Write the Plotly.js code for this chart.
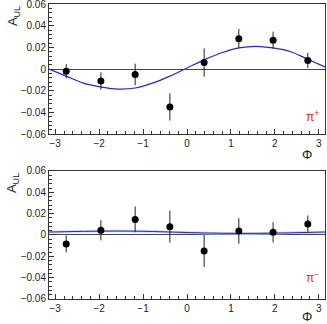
<!DOCTYPE html>
<html>
<head>
<meta charset="utf-8">
<script src="https://cdn.plot.ly/plotly-3.0.1.min.js"></script>
<style>
  html, body { margin: 0; padding: 0; background: #fff; }
  #graph { width: 327px; height: 324px; }
</style>
</head>
<body>
<div id="graph"></div>
<script>
// bin centres in phi
const phiBins = [-2.75, -1.96, -1.18, -0.39, 0.39, 1.18, 1.96, 2.75];

// pi+ asymmetry and errors
const aulPlus = [-0.002, -0.011, -0.005, -0.035, 0.006, 0.028, 0.0265, 0.008];
const errPlus = [0.0065, 0.008, 0.010, 0.0125, 0.013, 0.009, 0.008, 0.007];

// pi- asymmetry and errors
const aulMinus = [-0.0084, 0.0044, 0.0146, 0.0078, -0.015, 0.0037, 0.0025, 0.0103];
const errMinus = [0.008, 0.0095, 0.012, 0.015, 0.015, 0.012, 0.0095, 0.008];

// fit curves
const fitPhi = [-3.14, -2.75, -2.36, -1.96, -1.57, -1.18, -0.79, -0.39, 0, 0.39, 0.79, 1.18, 1.57, 1.96, 2.36, 2.75, 3.14];
const fitPlus = [0.000, -0.0065, -0.013, -0.0165, -0.0185, -0.0175, -0.013, -0.0065, 0.001, 0.0085, 0.015, 0.0195, 0.021, 0.0195, 0.016, 0.009, 0.002];
const fitMinus = [0.0028, 0.0031, 0.0034, 0.0036, 0.0037, 0.0036, 0.0033, 0.0028, 0.0023, 0.0019, 0.0016, 0.0015, 0.0015, 0.0017, 0.0020, 0.0024, 0.0028];

const font = { family: 'Liberation Sans, Arial, sans-serif', size: 10, color: '#222' };

function pointsTrace(y, err, xa, ya) {
    return {
        x: phiBins, y: y, xaxis: xa, yaxis: ya,
        type: 'scatter', mode: 'markers',
        marker: { color: '#000', size: 7 },
        error_y: { type: 'data', array: err, visible: true, color: '#222', thickness: 1, width: 0 },
        showlegend: false, hoverinfo: 'skip'
    };
}

function fitTrace(y, xa, ya, color, width) {
    return {
        x: fitPhi, y: y, xaxis: xa, yaxis: ya,
        type: 'scatter', mode: 'lines',
        line: { color: color, width: width, shape: 'spline' },
        showlegend: false, hoverinfo: 'skip'
    };
}

const traces = [
    fitTrace(fitPlus, 'x', 'y', '#2222ee', 1.2),
    pointsTrace(aulPlus, errPlus, 'x', 'y'),
    fitTrace(fitMinus, 'x2', 'y2', '#c8d2f6', 2.5),
    fitTrace(fitMinus, 'x2', 'y2', '#2222ee', 1),
    pointsTrace(aulMinus, errMinus, 'x2', 'y2')
];

function xAxis(anchor) {
    return {
        anchor: anchor, range: [-Math.PI, Math.PI],
        dtick: 1, tick0: 0, ticks: 'inside', ticklen: 5, tickcolor: '#333',
        minor: { dtick: 0.2, ticks: 'inside', ticklen: 3, tickcolor: '#333' },
        showgrid: false, zeroline: false,
        showline: true, linecolor: '#333', linewidth: 1, mirror: true,
        tickfont: font
    };
}

function yAxis(anchor, domain) {
    return {
        anchor: anchor, domain: domain, range: [-0.06002, 0.06002],
        dtick: 0.02, tick0: 0, ticks: 'inside', ticklen: 5, tickcolor: '#333',
        minor: { dtick: 0.004, ticks: 'inside', ticklen: 3, tickcolor: '#333' },
        showgrid: false, zeroline: true, zerolinecolor: '#444', zerolinewidth: 1,
        showline: true, linecolor: '#333', linewidth: 1, mirror: true,
        ticklabeloverflow: 'allow',
        tickfont: font
    };
}

const labelFont = { family: 'Liberation Sans, Arial, sans-serif', size: 13, color: '#222' };
const redFont = { family: 'Liberation Sans, Arial, sans-serif', size: 12, color: '#ee2222' };

const layout = {
    width: 327, height: 324,
    margin: { l: 49, r: 2, t: 4, b: 25 },
    paper_bgcolor: '#fff', plot_bgcolor: '#fff',
    xaxis: xAxis('y'),
    yaxis: yAxis('x', [0.559, 1]),
    xaxis2: xAxis('y2'),
    yaxis2: yAxis('x2', [0, 0.434]),
    annotations: [
        { text: 'A<sub>UL</sub>', xref: 'paper', yref: 'paper', x: -0.13, y: 1.0, xanchor: 'center', yanchor: 'top',
          textangle: -90, showarrow: false, font: labelFont },
        { text: 'A<sub>UL</sub>', xref: 'paper', yref: 'paper', x: -0.13, y: 0.434, xanchor: 'center', yanchor: 'top',
          textangle: -90, showarrow: false, font: labelFont },
        { text: 'Φ', xref: 'paper', yref: 'paper', x: 0.935, y: 0.49, xanchor: 'center', yanchor: 'middle',
          showarrow: false, font: labelFont },
        { text: 'Φ', xref: 'paper', yref: 'paper', x: 0.935, y: -0.058, xanchor: 'center', yanchor: 'middle',
          showarrow: false, font: labelFont },
        { text: 'π<sup>+</sup>', xref: 'paper', yref: 'paper', x: 0.955, y: 0.62, xanchor: 'center', yanchor: 'middle',
          showarrow: false, font: redFont },
        { text: 'π<sup>−</sup>', xref: 'paper', yref: 'paper', x: 0.955, y: 0.075, xanchor: 'center', yanchor: 'middle',
          showarrow: false, font: redFont }
    ]
};

Plotly.newPlot('graph', traces, layout, { displayModeBar: false, staticPlot: true });
</script>
</body>
</html>
